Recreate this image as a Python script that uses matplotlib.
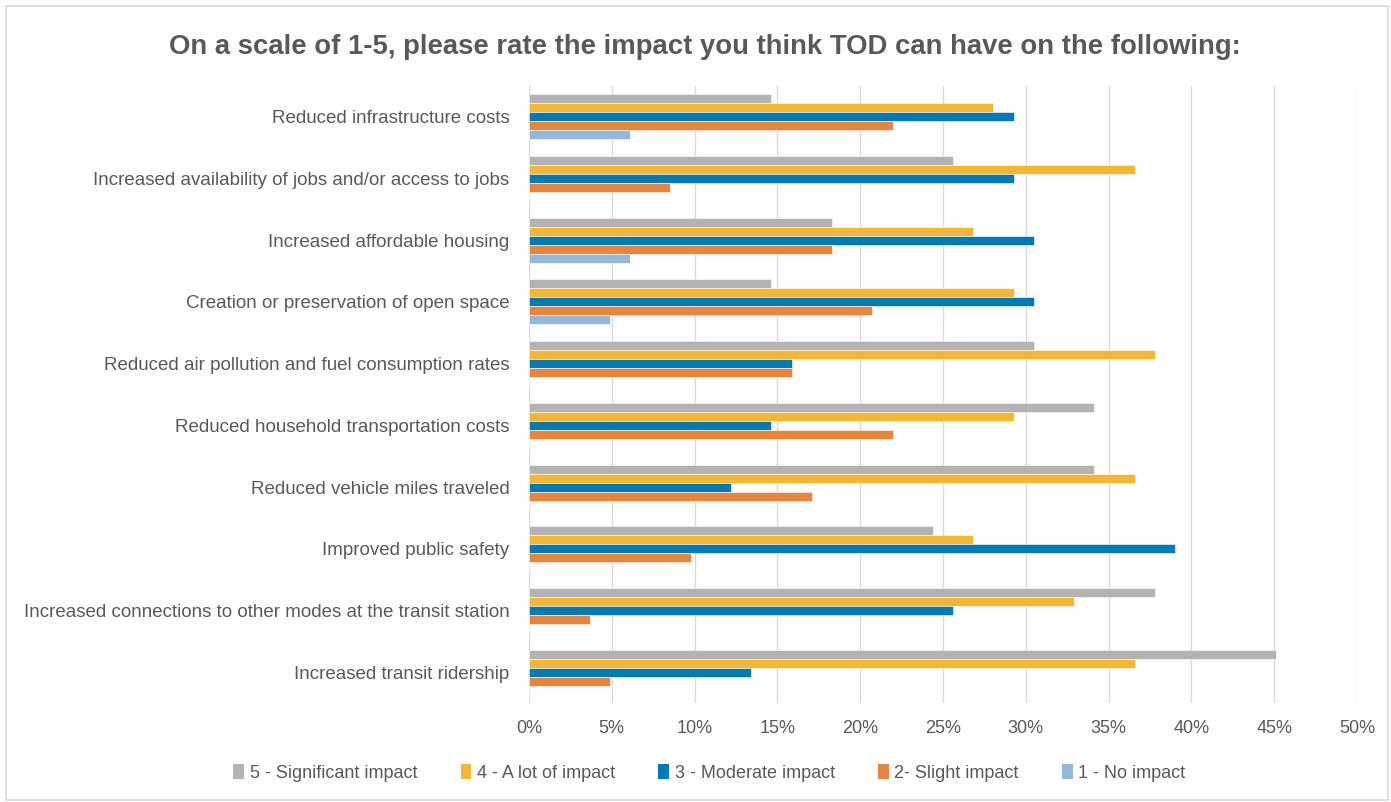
import numpy as np
import matplotlib.pyplot as plt
from matplotlib.patches import Rectangle, Patch
from matplotlib.ticker import PercentFormatter

plt.rcParams['font.family'] = ['Liberation Sans', 'DejaVu Sans']

categories = [
    "Reduced infrastructure costs",
    "Increased availability of jobs and/or access to jobs",
    "Increased affordable housing",
    "Creation or preservation of open space",
    "Reduced air pollution and fuel consumption rates",
    "Reduced household transportation costs",
    "Reduced vehicle miles traveled",
    "Improved public safety",
    "Increased connections to other modes at the transit station",
    "Increased transit ridership",
]

series_names = [
    "5 - Significant impact",
    "4 - A lot of impact",
    "3 - Moderate impact",
    "2- Slight impact",
    "1 - No impact",
]

sig_impact = [14.6, 25.6, 18.3, 14.6, 30.5, 34.1, 34.1, 24.4, 37.8, 45.1]
lot_impact = [28.0, 36.6, 26.8, 29.3, 37.8, 29.3, 36.6, 26.8, 32.9, 36.6]
mod_impact = [29.3, 29.3, 30.5, 30.5, 15.9, 14.6, 12.2, 39.0, 25.6, 13.4]
slight_impact = [22.0, 8.5, 18.3, 20.7, 15.9, 22.0, 17.1, 9.8, 3.7, 4.9]
no_impact = [6.1, 0, 6.1, 4.9, 0, 0, 0, 0, 0, 0]

series_values = [sig_impact, lot_impact, mod_impact, slight_impact, no_impact]
colors = ["#b3b3b3", "#f5b731", "#007bb6", "#e9843d", "#93b8d9"]
text_color = "#595959"

fig = plt.figure(figsize=(13.91, 8.02), dpi=100)
ax = fig.add_axes([0.3803, 0.1234, 0.5953, 0.7694])

y = np.arange(len(categories))
h = 0.146
for i, (vals, c) in enumerate(zip(series_values, colors)):
    ax.barh(y + (i - 2) * h, vals, height=h, color=c, edgecolor="white",
            linewidth=0.4, zorder=3)

ax.set_ylim(len(categories) - 0.5, -0.5)
ax.set_xlim(0, 50)
ax.set_xticks(np.arange(0, 51, 5))
ax.xaxis.set_major_formatter(PercentFormatter(decimals=0))
ax.set_yticks(y)
ax.set_yticklabels(categories)
ax.grid(axis="x", color="#d9d9d9", linewidth=1, zorder=0)
for s in ax.spines.values():
    s.set_visible(False)
ax.tick_params(axis="both", length=0, colors=text_color, labelsize=13)
ax.tick_params(axis="y", pad=14, labelsize=13.5)
ax.tick_params(axis="x", pad=12)

fig.text(0.507, 0.942, "On a scale of 1-5, please rate the impact you think TOD can have on the following:",
         ha="center", va="center", fontsize=19.8, fontweight="bold", color=text_color)

handles = [Patch(facecolor=c, edgecolor="none") for c in colors]
fig.legend(handles, series_names, loc="center", bbox_to_anchor=(0.51, 0.036), ncol=5,
           frameon=False, fontsize=13, handlelength=0.6, handleheight=0.9,
           handletextpad=0.3, columnspacing=2.4, labelcolor=text_color)

fig.patches.append(Rectangle((0.004, 0.003), 0.994, 0.99, transform=fig.transFigure,
                             fill=False, edgecolor="#d9d9d9", linewidth=1.2))

fig.savefig("out.png", dpi=100)
